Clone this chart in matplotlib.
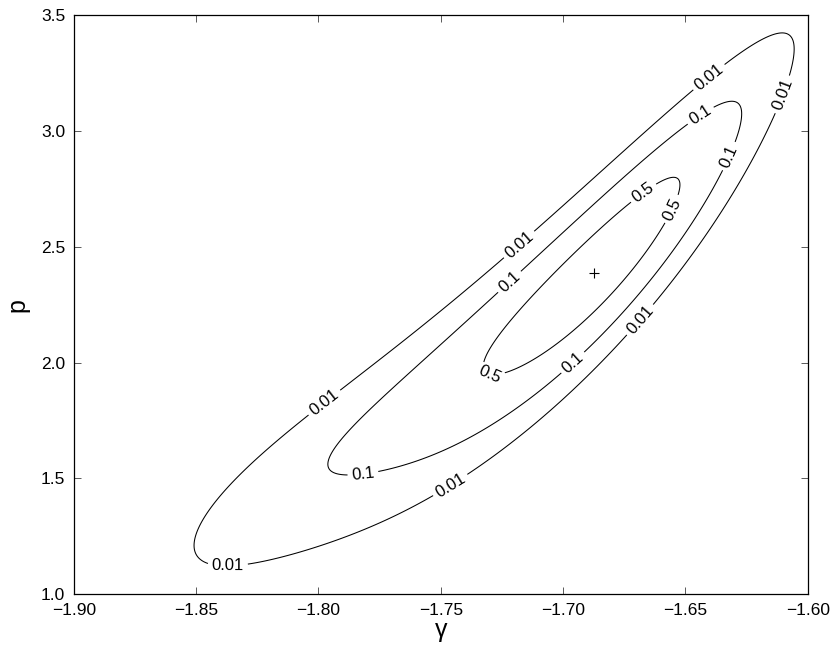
import numpy as np
import matplotlib

matplotlib.use("Agg")
import matplotlib.pyplot as plt  # noqa: E402

plt.rcParams.update({"font.family": ["Liberation Sans", "DejaVu Sans"],
                     "xtick.direction": "in", "ytick.direction": "in",
                     "xtick.top": True, "ytick.right": True})

# maximum-likelihood point (gamma, p) and scale of the normalised coordinates
GAMMA_HAT = -1.68722
P_HAT = 2.38800
GAMMA_SCALE = 0.0408714
P_SCALE = 0.431593

# -2 ln(L/Lmax), as a quartic in (u, v):
# u^2, uv, v^2, u^3, u^2v, uv^2, v^3, u^4, u^3v, u^2v^2, uv^3, v^4
DEV_COEF = [9.76426, -17.31382, 9.12788,
            2.88153, -3.41623, 0.67717, 0.16868,
            1.09328, -3.71660, 5.51904, -3.82306, 0.99597]

LEVELS = [0.01, 0.1, 0.5]
LEVEL_TEXT = {0.01: "0.01", 0.1: "0.1", 0.5: "0.5"}

# where the contour labels sit in the reference
LABEL_AT = [(-1.797, 1.82), (-1.718, 2.51), (-1.641, 3.24), (-1.611, 3.16),
            (-1.668, 2.18), (-1.746, 1.47), (-1.837, 1.12),
            (-1.782, 1.54), (-1.722, 2.35), (-1.644, 3.07), (-1.632, 2.89),
            (-1.696, 2.00),
            (-1.730, 1.95), (-1.667, 2.73), (-1.655, 2.66)]


def rel_likelihood(g, p):
    u = (g - GAMMA_HAT) / GAMMA_SCALE
    v = (p - P_HAT) / P_SCALE
    mono = []
    for d in range(2, 5):
        for i in range(d + 1):
            mono.append(u ** (d - i) * v ** i)
    dev = sum(c * m for c, m in zip(DEV_COEF, mono))
    return np.exp(-0.5 * dev)


gg, pp = np.meshgrid(np.linspace(-1.9, -1.6, 500), np.linspace(1.0, 3.5, 500))
rl = rel_likelihood(gg, pp)

fig = plt.figure(figsize=(8.3, 6.51), dpi=100)
ax = fig.add_axes([0.0888, 0.0871, 0.8843, 0.8899])

cs = ax.contour(gg, pp, rl, levels=LEVELS, colors="black", linewidths=0.75)
ax.clabel(cs, fmt=LEVEL_TEXT, fontsize=12, inline=True, inline_spacing=4,
          manual=LABEL_AT)
ax.plot([GAMMA_HAT], [P_HAT], "+", color="black", ms=7, mew=0.8)

ax.set_xlim(-1.9, -1.6)
ax.set_ylim(1.0, 3.5)
ax.set_xticks(np.arange(-1.90, -1.599, 0.05))
ax.set_yticks(np.arange(1.0, 3.51, 0.5))
ax.tick_params(length=5, width=0.7, color="0.35", labelsize=12.5, pad=6)
for s in ax.spines.values():
    s.set_linewidth(0.9)
ax.set_xlabel("γ", fontsize=18, labelpad=0)
ax.set_ylabel("p", fontsize=18, labelpad=8)

fig.savefig("out.png", dpi=100)
